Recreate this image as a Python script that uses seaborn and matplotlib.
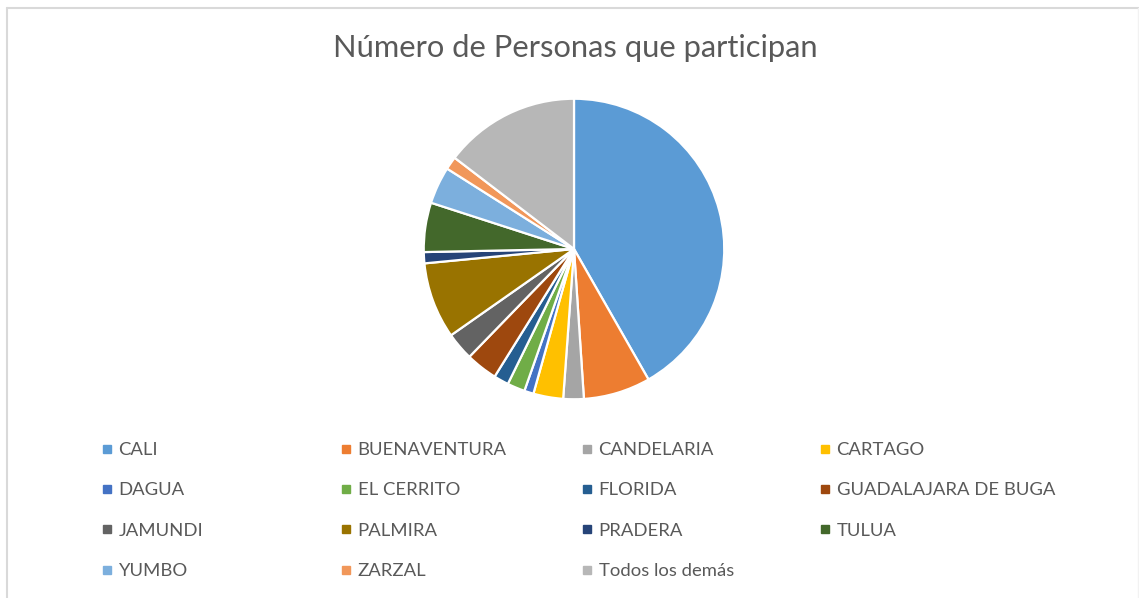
import matplotlib
matplotlib.use("Agg")
import matplotlib.pyplot as plt
from matplotlib.lines import Line2D
import seaborn as sns

categories = ["CALI", "BUENAVENTURA", "CANDELARIA", "CARTAGO", "DAGUA", "EL CERRITO",
              "FLORIDA", "GUADALAJARA DE BUGA", "JAMUNDI", "PALMIRA", "PRADERA", "TULUA",
              "YUMBO", "ZARZAL", "Todos los demás"]
values = [41.7, 7.2, 2.2, 3.2, 1.0, 1.9, 1.6, 3.4, 3.0, 8.2, 1.2, 5.3, 4.0, 1.4, 14.6]
colors = ["#5B9BD5", "#ED7D31", "#A5A5A5", "#FFC000", "#4472C4", "#70AD47", "#255E91",
          "#9E480E", "#636363", "#997300", "#264478", "#43682B", "#7CAFDD", "#F1975A", "#B7B7B7"]
title = "Número de Personas que participan"

sns.set_theme(style="white")
plt.rcParams['font.family'] = ['Lato', 'DejaVu Sans']
palette = sns.color_palette(colors)

W, H = 1139, 598
fig = plt.figure(figsize=(W / 100, H / 100), dpi=100)
fig.patch.set_facecolor("white")

cx, cy, r = 574, 249, 151
ax = fig.add_axes([(cx - r) / W, (H - cy - r) / H, 2 * r / W, 2 * r / H])
ax.pie(values, colors=palette, startangle=90, counterclock=False, radius=1,
       wedgeprops=dict(edgecolor="white", linewidth=1.6))
ax.set_xlim(-1.005, 1.005)
ax.set_ylim(-1.005, 1.005)
ax.set_aspect("equal")
ax.axis("off")

fig.text(575 / W, 1 - 48 / H, title, ha="center", va="center", fontsize=22.2, color="#595959")

# border lines
fig.add_artist(Line2D([7 / W, 1], [1 - 8 / H, 1 - 8 / H], color="#D9D9D9", linewidth=1.5))
fig.add_artist(Line2D([7 / W, 7 / W], [0, 1 - 8 / H], color="#D9D9D9", linewidth=1.5))
fig.add_artist(Line2D([1137.5 / W, 1137.5 / W], [0, 1 - 8 / H], color="#F2F2F2", linewidth=1.0))

# legend in 4 columns, row-major order
col_x = [101, 340, 581, 819]
ncol = 4
for c in range(ncol):
    idx = list(range(c, len(categories), ncol))
    handles = [Line2D([], [], linestyle="none", marker="s", markersize=6,
                      markerfacecolor=palette[i], markeredgecolor=palette[i]) for i in idx]
    labels = [categories[i] for i in idx]
    leg = fig.legend(handles, labels, loc="upper left",
                     bbox_to_anchor=(col_x[c] / W, 1 - 442 / H), frameon=False,
                     fontsize=13.3, handlelength=0.6, handletextpad=0.35,
                     labelspacing=1.32, borderpad=0, borderaxespad=0)
    for t in leg.get_texts():
        t.set_color("#595959")

fig.savefig("out.png", dpi=100, facecolor="white")
